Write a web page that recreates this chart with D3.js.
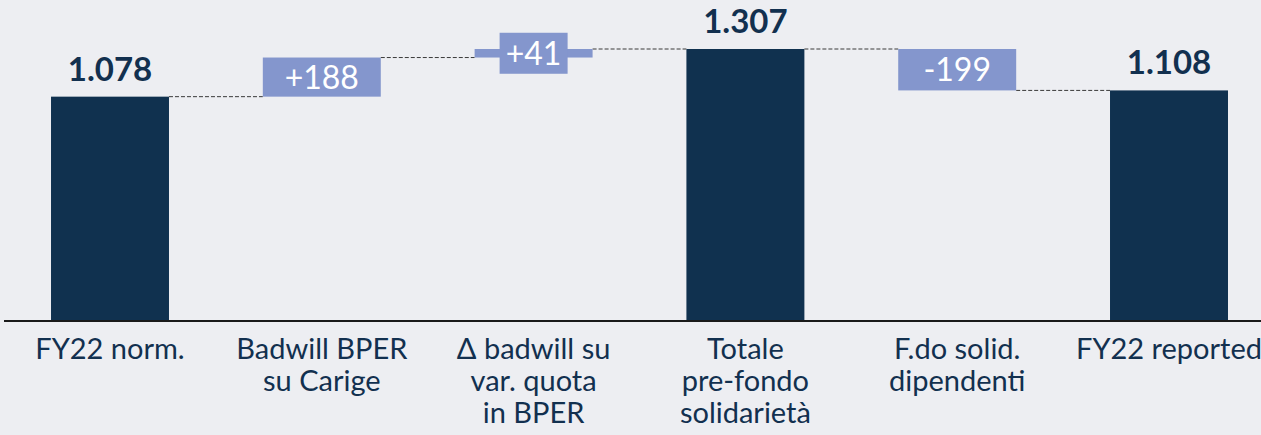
<!DOCTYPE html>
<html><head><meta charset="utf-8">
<script src="https://cdn.jsdelivr.net/npm/d3@7"></script>
<style>
html,body{margin:0;padding:0;background:#EDEEF2;}
svg{display:block;}
</style></head>
<body>
<svg id="chart" width="1261" height="435"></svg>
<script>
const categories = [["FY22 norm."], ["Badwill BPER","su Carige"], ["\u0394 badwill su","var. quota","in BPER"], ["Totale","pre-fondo","solidariet\u00e0"], ["F.do solid.","dipendenti"], ["FY22 reported"]];
const kinds = ["total","delta","delta","total","delta","total"];
const values = [1078, 188, 41, 1307, -199, 1108];
const valueLabels = ["1.078", "+188", "+41", "1.307", "-199", "1.108"];

const W = 1261, H = 435;
const svg = d3.select("#chart");
const navy = "#10314F", box = "#8496CD", textCol = "#12304F";

const x = d3.scalePoint().domain(d3.range(categories.length)).range([110, 1169]);
const barW = x.step() * 0.557;
const y = d3.scaleLinear().domain([0, 1307]).range([321, 49]);

let run = 0;
const data = values.map((v, i) => {
  let lo, hi;
  if (kinds[i] === "total") { lo = 0; hi = v; run = v; }
  else { const s = run; run = run + v; lo = Math.min(s, run); hi = Math.max(s, run); }
  return {i, v, lo, hi, end: run, kind: kinds[i], label: valueLabels[i]};
});

// connectors
for (let k = 0; k < data.length - 1; k++) {
  const d = data[k];
  svg.append("line")
    .attr("x1", x(k) + barW/2).attr("x2", x(k+1) - barW/2)
    .attr("y1", y(d.end)).attr("y2", y(d.end))
    .attr("stroke", "#3a3a3a").attr("stroke-width", 1).attr("stroke-dasharray", "4,2");
}

// bars
svg.selectAll("rect.bar").data(data).enter().append("rect")
  .attr("class","bar")
  .attr("x", d => x(d.i) - barW/2)
  .attr("width", barW)
  .attr("y", d => y(d.hi))
  .attr("height", d => y(d.lo) - y(d.hi))
  .attr("fill", d => d.kind === "total" ? navy : box);

// labels
data.forEach(d => {
  if (d.kind === "total") {
    svg.append("text")
      .attr("x", x(d.i)).attr("y", y(d.hi) - 16)
      .attr("text-anchor","middle")
      .attr("font-family","Lato, sans-serif").attr("font-weight","bold")
      .attr("font-size", 33).attr("fill", textCol)
      .text(d.label);
  } else {
    const cy = (y(d.hi) + y(d.lo)) / 2;
    const boxH = y(d.lo) - y(d.hi);
    if (boxH < 36) {
      const bw = 68, bh = 41;
      svg.append("rect")
        .attr("x", x(d.i) - bw/2).attr("y", cy - bh/2)
        .attr("width", bw).attr("height", bh).attr("fill", box);
    }
    svg.append("text")
      .attr("x", x(d.i)).attr("y", cy)
      .attr("dy", "0.36em")
      .attr("text-anchor","middle")
      .attr("font-family","Lato, sans-serif")
      .attr("font-size", 32).attr("fill", "#FFFFFF")
      .text(d.label);
  }
});

// axis baseline
svg.append("line")
  .attr("x1", 4).attr("x2", W).attr("y1", y(0)).attr("y2", y(0))
  .attr("stroke", "#1a1a1a").attr("stroke-width", 2);

// category labels
categories.forEach((lines, i) => {
  const t = svg.append("text")
    .attr("x", x(i)).attr("y", 359)
    .attr("text-anchor","middle")
    .attr("font-family","Lato, sans-serif")
    .attr("font-size", 29).attr("fill", textCol);
  lines.forEach((ln, j) => {
    t.append("tspan").attr("x", x(i)).attr("dy", j === 0 ? 0 : 32).text(ln);
  });
});
</script>
</body></html>
